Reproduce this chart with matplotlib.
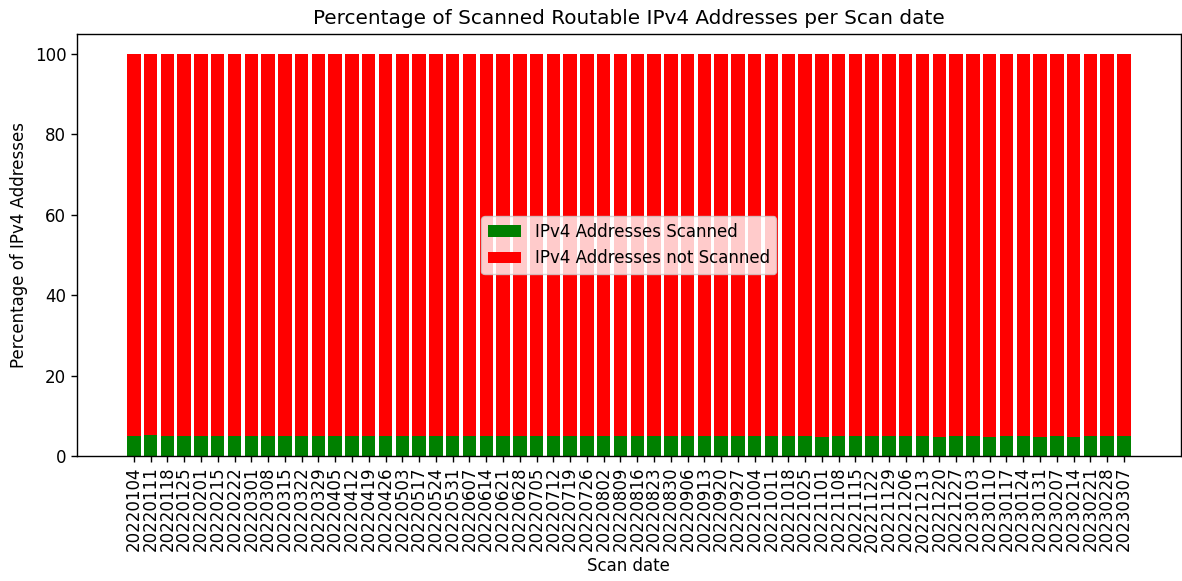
import matplotlib
matplotlib.use('Agg')
import matplotlib.pyplot as plt
import numpy as np

# Fechas de escaneo (semanales, faltan algunas)
scan_dates = [
    '20220104', '20220111', '20220118', '20220125', '20220201', '20220215',
    '20220222', '20220301', '20220308', '20220315', '20220322', '20220329',
    '20220405', '20220412', '20220419', '20220426', '20220503', '20220517',
    '20220524', '20220531', '20220607', '20220614', '20220621', '20220628',
    '20220705', '20220712', '20220719', '20220726', '20220802', '20220809',
    '20220816', '20220823', '20220830', '20220906', '20220913', '20220920',
    '20220927', '20221004', '20221011', '20221018', '20221025', '20221101',
    '20221108', '20221115', '20221122', '20221129', '20221206', '20221213',
    '20221220', '20221227', '20230103', '20230110', '20230117', '20230124',
    '20230131', '20230207', '20230214', '20230221', '20230228', '20230307',
]

# Porcentaje de direcciones IPv4 enrutables escaneadas
scanned_pct = [
    5.1, 5.25, 5.1, 5.1, 5.1, 5.1, 5.1, 5.1, 5.1, 5.1, 5.1, 5.1, 5.1,
    4.9, 4.9, 4.9, 4.9, 4.9, 4.9, 4.9, 4.9, 4.9, 4.9, 4.9, 4.9, 4.9,
    4.9, 4.9, 4.9, 4.9, 4.9, 4.9, 4.9, 4.9, 4.9, 4.9, 4.9, 4.9, 4.9,
    4.9, 4.9, 4.75, 5.1, 4.9, 4.9, 4.9, 4.9, 4.9, 4.75, 4.9, 4.9,
    4.75, 4.9, 4.9, 4.75, 4.9, 4.75, 4.9, 4.9, 4.9,
]
not_scanned_pct = [100 - v for v in scanned_pct]

fs = 12
fig, ax = plt.subplots(figsize=(11.82, 5.81), dpi=100)
fig.subplots_adjust(left=0.0651, right=0.999, top=0.9415, bottom=0.2151)

x = np.arange(len(scan_dates))
ax.bar(x, scanned_pct, color='green', label='IPv4 Addresses Scanned')
ax.bar(x, not_scanned_pct, bottom=scanned_pct, color='red',
       label='IPv4 Addresses not Scanned')

ax.set_xticks(x)
ax.set_xticklabels(scan_dates, rotation=90, fontsize=fs)
ax.tick_params(axis='both', labelsize=fs, length=4.2, width=1.0)
for spine in ax.spines.values():
    spine.set_linewidth(1.0)
ax.set_xlabel('Scan date', fontsize=fs, labelpad=4)
ax.set_ylabel('Percentage of IPv4 Addresses', fontsize=fs, labelpad=5)
ax.set_title('Percentage of Scanned Routable IPv4 Addresses per Scan date',
             fontsize=14.4, pad=7)
ax.legend(loc='center', fontsize=fs)

fig.savefig('out.png', dpi=100)
